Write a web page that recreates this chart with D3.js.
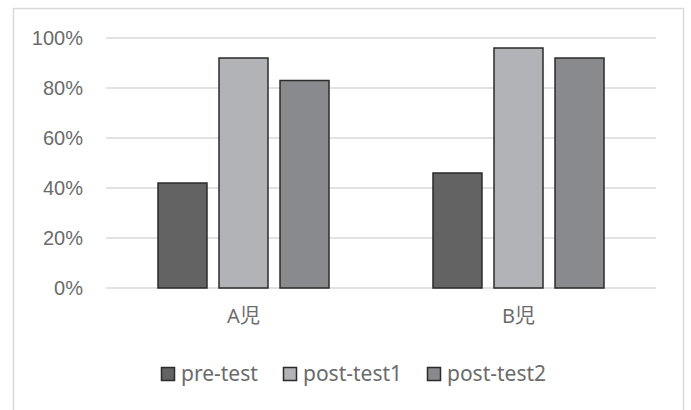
<!DOCTYPE html>
<html>
<head>
<meta charset="utf-8">
<script src="https://cdn.jsdelivr.net/npm/d3@7"></script>
<style>
  html, body { margin: 0; padding: 0; background: #fff; }
  svg { display: block; font-family: "Noto Sans", "Noto Sans CJK JP", sans-serif; }
</style>
</head>
<body>
<svg id="chart" width="691" height="410"></svg>
<script>
const categories = ["A児", "B児"];
const seriesNames = ["pre-test", "post-test1", "post-test2"];
const preTest = [0.42, 0.46];
const postTest1 = [0.92, 0.96];
const postTest2 = [0.83, 0.92];
const yTicks = [0, 0.2, 0.4, 0.6, 0.8, 1.0];
const seriesColors = ["#636363", "#b2b3b6", "#898a8d"];

const seriesValues = [preTest, postTest1, postTest2];

const svg = d3.select("#chart");

// outer frame
svg.append("rect")
  .attr("x", 13.5).attr("y", 8.5)
  .attr("width", 670).attr("height", 410)
  .attr("fill", "#fff").attr("stroke", "#d9d9d9").attr("stroke-width", 1.5);

const plot = { left: 106, right: 656, top: 38, bottom: 288 };

const x = d3.scaleBand().domain(categories).range([plot.left, plot.right]).paddingInner(0).paddingOuter(0);
const xs = d3.scaleBand().domain(seriesNames).range([0, x.bandwidth()])
  .paddingInner(0.197).paddingOuter(0.852);
const y = d3.scaleLinear().domain([0, 1]).range([plot.bottom, plot.top]);

// gridlines
svg.append("g").selectAll("line").data(yTicks).join("line")
  .attr("x1", plot.left).attr("x2", plot.right)
  .attr("y1", d => y(d)).attr("y2", d => y(d))
  .attr("stroke", "#d9d9d9").attr("stroke-width", 1.5);

// y axis labels
const yAxis = d3.axisLeft(y).tickValues(yTicks).tickFormat(d3.format(".0%")).tickSize(0).tickPadding(0);
const yg = svg.append("g").attr("transform", `translate(${plot.left - 23},0)`).call(yAxis);
yg.select(".domain").remove();
yg.selectAll("text").attr("fill", "#6b6b6b").style("font-size", "20px").attr("dy", "0.34em");

// bars
const groups = svg.append("g").selectAll("g").data(categories).join("g")
  .attr("transform", d => `translate(${x(d)},0)`);
groups.selectAll("rect")
  .data((d, i) => seriesNames.map((s, j) => ({ s, j, v: seriesValues[j][i] })))
  .join("rect")
  .attr("x", d => xs(d.s))
  .attr("width", xs.bandwidth())
  .attr("y", d => y(d.v))
  .attr("height", d => y(0) - y(d.v))
  .attr("fill", d => seriesColors[d.j])
  .attr("stroke", "#2b2b2b").attr("stroke-width", 1.5);

// x axis labels
const xAxis = d3.axisBottom(x).tickSize(0).tickPadding(0);
const xg = svg.append("g").attr("transform", `translate(0,${plot.bottom + 21})`).call(xAxis);
xg.select(".domain").remove();
xg.selectAll("text").attr("fill", "#6b6b6b").style("font-size", "20px")
  .style("font-family", "'Noto Sans', 'Noto Sans CJK JP', sans-serif").attr("dy", "0.71em");

// legend
const legendX = [161, 283, 427];
const lg = svg.append("g").selectAll("g").data(seriesNames).join("g")
  .attr("transform", (d, i) => `translate(${legendX[i]},367)`);
lg.append("rect").attr("x", 0.5).attr("y", 0.5).attr("width", 13).attr("height", 13)
  .attr("fill", (d, i) => seriesColors[i]).attr("stroke", "#2b2b2b").attr("stroke-width", 1.5);
lg.append("text").attr("x", 20).attr("y", 14)
  .attr("fill", "#6b6b6b").style("font-size", "21px").text(d => d);
</script>
</body>
</html>
